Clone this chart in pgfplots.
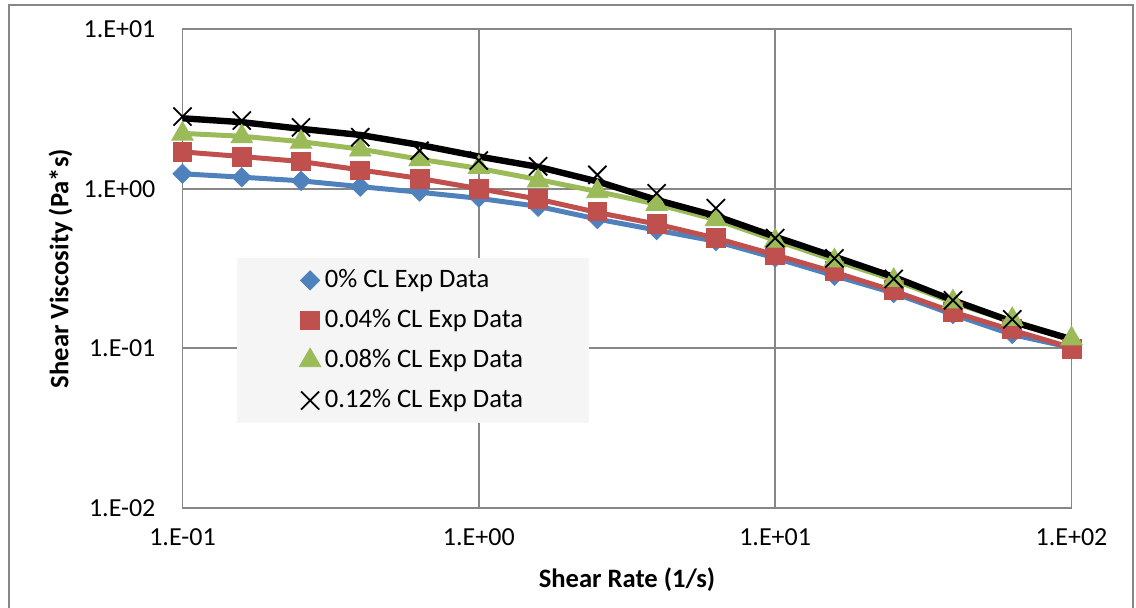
\documentclass[border=0pt]{standalone}
\usepackage{pgfplots}
\pgfplotsset{compat=1.18}
\usepackage{fontspec}
\setmainfont{Carlito}

\definecolor{xlblue}{HTML}{4F81BD}
\definecolor{xlred}{HTML}{C0504D}
\definecolor{xlgreen}{HTML}{9BBB59}
\definecolor{xlgrid}{HTML}{878787}
\definecolor{legbg}{HTML}{F5F5F5}

\begin{document}
\fontsize{13}{15.6}\selectfont
\begin{tikzpicture}
\begin{axis}[
    at={(0,0)}, anchor=south west,
    width=444.5pt, height=239.5pt,
    scale only axis,
    xmode=log, ymode=log,
    xmin=0.1, xmax=100, ymin=0.01, ymax=10,
    xtick={0.1,1,10,100},
    xticklabels={1.E-01,1.E+00,1.E+01,1.E+02},
    ytick={0.01,0.1,1,10},
    yticklabels={1.E-02,1.E-01,1.E+00,1.E+01},
    minor xtick={}, minor ytick={},
    major tick length=0pt, minor tick length=0pt,
    grid=major,
    major grid style={xlgrid, line width=0.9pt},
    axis line style={xlgrid, line width=0.9pt},
    xticklabel style={yshift=-6pt, font=\fontsize{13}{15.6}\selectfont},
    yticklabel style={xshift=-9pt, font=\fontsize{13}{15.6}\selectfont},
    xlabel={\textbf{Shear Rate (1/s)}},
    ylabel={\textbf{Shear Viscosity (Pa*s)}},
    every axis x label/.style={at={(axis description cs:0.5,0)}, yshift=-36pt, anchor=center,
        font=\fontsize{13.3}{16}\selectfont},
    every axis y label/.style={at={(axis description cs:0,0.5)}, xshift=-61pt, anchor=center, rotate=90,
        font=\fontsize{13.3}{16}\selectfont},
    legend style={at={(axis description cs:0.0613,0.522)}, anchor=north west,
        draw=none, fill=legbg, inner xsep=31pt, inner ysep=3.5pt, row sep=5pt,
        font=\fontsize{13.3}{16}\selectfont},
    legend cell align=left,
    legend image code/.code={\draw[mark repeat=2,mark phase=2,#1] plot coordinates {(0cm,0cm)(0.15cm,0cm)(0.3cm,0cm)};},
    clip=false,
]
% model lines (no legend)
\addplot[xlblue, line width=2.5pt, forget plot] coordinates {
    (0.1,1.24)(0.1585,1.18)(0.2512,1.12)(0.3981,1.03)(0.631,0.95)(1,0.87)
    (1.585,0.775)(2.512,0.645)(3.981,0.55)(6.31,0.468)(10,0.368)(15.85,0.285)
    (25.12,0.222)(39.81,0.163)(63.1,0.122)(100,0.101)
};
\addplot[xlred, line width=2.5pt, forget plot] coordinates {
    (0.1,1.70)(0.1585,1.59)(0.2512,1.48)(0.3981,1.31)(0.631,1.16)(1,1.00)
    (1.585,0.86)(2.512,0.71)(3.981,0.60)(6.31,0.49)(10,0.385)(15.85,0.30)
    (25.12,0.229)(39.81,0.169)(63.1,0.130)(100,0.101)
};
\addplot[xlgreen, line width=2.5pt, forget plot] coordinates {
    (0.1,2.22)(0.1585,2.13)(0.2512,1.97)(0.3981,1.77)(0.631,1.53)(1,1.34)
    (1.585,1.14)(2.512,0.96)(3.981,0.80)(6.31,0.64)(10,0.475)(15.85,0.356)
    (25.12,0.268)(39.81,0.194)(63.1,0.146)(100,0.113)
};
\addplot[black, line width=3.2pt, forget plot] coordinates {
    (0.1,2.76)(0.1585,2.61)(0.2512,2.37)(0.3981,2.17)(0.631,1.88)(1,1.59)
    (1.585,1.37)(2.512,1.11)(3.981,0.85)(6.31,0.675)(10,0.50)(15.85,0.375)
    (25.12,0.28)(39.81,0.20)(63.1,0.147)(100,0.114)
};
% experimental data
\addplot[only marks, mark=square*, mark size=3.4pt, mark options={rotate=45, fill=xlblue, draw=xlblue}] coordinates {
    (0.1,1.24)(0.1585,1.18)(0.2512,1.12)(0.3981,1.03)(0.631,0.96)(1,0.88)
    (1.585,0.77)(2.512,0.645)(3.981,0.55)(6.31,0.47)(10,0.37)(15.85,0.285)
    (25.12,0.222)(39.81,0.164)(63.1,0.123)(100,0.100)
};
\addlegendentry{0\% CL Exp Data}
\addplot[only marks, mark=square*, mark size=4.7pt, mark options={fill=xlred, draw=xlred}] coordinates {
    (0.1,1.70)(0.1585,1.59)(0.2512,1.48)(0.3981,1.30)(0.631,1.15)(1,1.00)
    (1.585,0.86)(2.512,0.72)(3.981,0.60)(6.31,0.49)(10,0.387)(15.85,0.305)
    (25.12,0.232)(39.81,0.17)(63.1,0.133)(100,0.099)
};
\addlegendentry{0.04\% CL Exp Data}
\addplot[only marks, mark=triangle*, mark size=6.2pt, mark options={fill=xlgreen, draw=xlgreen}] coordinates {
    (0.1,2.20)(0.1585,2.12)(0.2512,1.96)(0.3981,1.75)(0.631,1.52)(1,1.36)
    (1.585,1.12)(2.512,0.96)(3.981,0.80)(6.31,0.64)(10,0.47)(15.85,0.354)
    (25.12,0.267)(39.81,0.196)(63.1,0.152)(100,0.115)
};
\addlegendentry{0.08\% CL Exp Data}
\addplot[only marks, mark=x, mark size=6.4pt, mark options={draw=black, line width=0.9pt}] coordinates {
    (0.1,2.83)(0.1585,2.67)(0.2512,2.42)(0.3981,2.10)(0.631,1.73)(1,1.50)
    (1.585,1.38)(2.512,1.22)(3.981,0.935)(6.31,0.755)(10,0.49)(15.85,0.366)
    (25.12,0.272)(39.81,0.200)(63.1,0.152)
};
\addlegendentry{0.12\% CL Exp Data}
\end{axis}
\pgfresetboundingbox
\useasboundingbox (-91.25pt,-49.5pt) rectangle (476.75pt,254pt);
\draw[xlgrid, line width=0.8pt] (-86.75pt,-60pt) rectangle (475.25pt,251.5pt);
\end{tikzpicture}
\end{document}
